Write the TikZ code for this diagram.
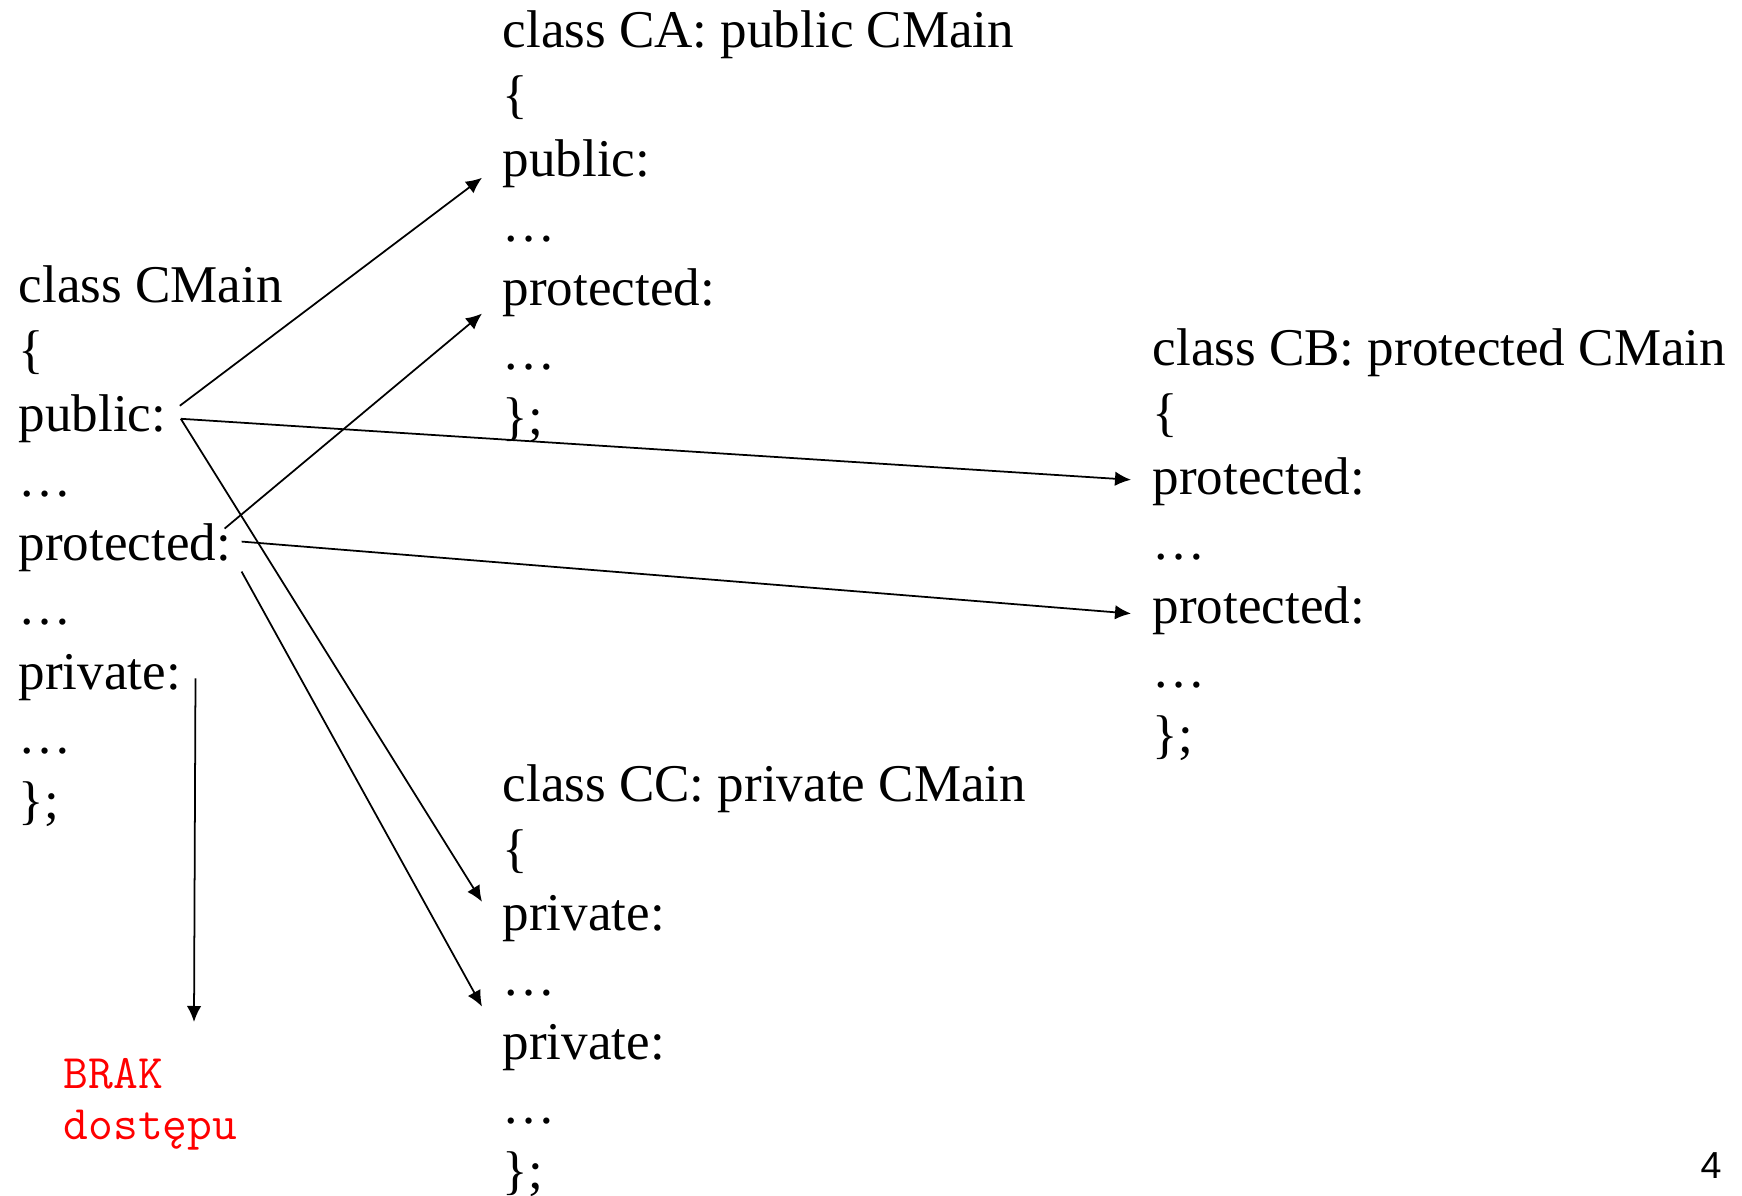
\documentclass[tikz,border=0pt]{standalone}
\usepackage{fontspec}
\setmainfont{Liberation Serif}
\newfontfamily\pagefont{Liberation Sans}
\usetikzlibrary{arrows.meta}
\definecolor{brakred}{RGB}{255,0,0}
\tikzset{
  codeline/.style={anchor=base west,inner sep=0pt,font=\fontsize{15.1}{18}\selectfont},
  brakline/.style={anchor=base west,inner sep=0pt,text=brakred,font=\ttfamily\fontsize{13.7}{16}\selectfont},
  conn/.style={line width=0.5pt,-{Latex[length=1.6mm,width=1.45mm]}}
}
\newcommand{\codecol}[4]{%
  \foreach \t [count=\i] in {#4}
    \node[codeline] (#1\i) at (#2,#3-0.644*\i+0.644) {\t};
}

\begin{document}
\begin{tikzpicture}[x=1.0cm,y=1.0cm]
  \useasboundingbox (0,0) rectangle (17.42,11.96);
  \codecol{cm}{0.18}{8.93}{class CMain,\{,public:,…,protected:,…,private:,…,\};}
  \codecol{ca}{5.02}{11.48}{class CA: public CMain,\{,public:,…,protected:,…,\};}
  \codecol{cb}{11.52}{8.30}{class CB: protected CMain,\{,protected:,…,protected:,…,\};}
  \codecol{cc}{5.02}{3.94}{class CC: private CMain,\{,private:,…,private:,…,\};}
  \node[brakline] (braka) at (0.63,1.07) {BRAK};
  \node[brakline] (brakb) at (0.63,0.56) {dostępu};
  \node[anchor=base west,inner sep=0pt,font=\pagefont\fontsize{10.7}{12}\selectfont] (pagenum) at (17.0,0.18) {4};
  \coordinate (pvtend) at (1.94,1.74);
  % public / protected / private of CMain to the derived classes
  \draw[conn] ([shift={(0.13,0.26)}]cm3.base east) -- ([shift={(-0.2,-0.01)}]ca3.base west);
  \draw[conn] ([shift={(-0.07,0.32)}]cm5.base east) -- ([shift={(-0.2,-0.08)}]ca5.base west);
  \draw[conn] ([shift={(0.14,0.13)}]cm3.base east) -- ([shift={(-0.21,0.15)}]cb3.base west);
  \draw[conn] ([shift={(0.10,0.19)}]cm5.base east) -- ([shift={(-0.21,0.10)}]cb5.base west);
  \draw[conn] ([shift={(0.14,0.13)}]cm3.base east) -- ([shift={(-0.2,0.29)}]cc3.base west);
  \draw[conn] ([shift={(0.10,-0.11)}]cm5.base east) -- ([shift={(-0.2,0.53)}]cc5.base west);
  \draw[conn] ([shift={(0.14,0.11)}]cm7.base east) -- (pvtend);
\end{tikzpicture}
\end{document}
